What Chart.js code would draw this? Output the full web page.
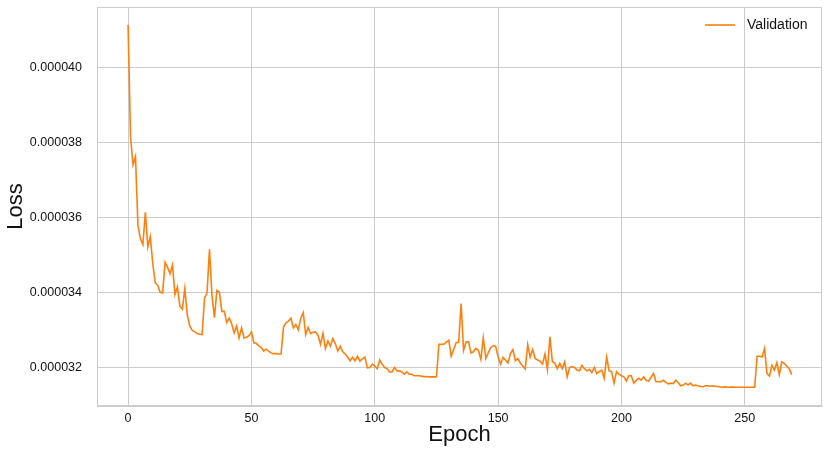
<!DOCTYPE html>
<html>
<head>
<meta charset="utf-8">
<script src="https://cdn.jsdelivr.net/npm/chart.js@4/dist/chart.umd.min.js"></script>
<style>
  body { margin: 0; background: #fff; }
  canvas { display: block; }
</style>
</head>
<body>
<canvas id="myChart" width="831" height="453"></canvas>
<script>
// validation loss per epoch, in units of 1e-6
var lossMicro = [
  41.15, 38.14, 37.41, 37.63, 35.79, 35.43, 35.28, 36.14, 35.21, 35.49,
  34.77, 34.25, 34.19, 34.00, 33.98, 34.80, 34.67, 34.50, 34.73, 33.94,
  34.14, 33.63, 33.55, 34.10, 33.40, 33.10, 32.98, 32.95, 32.90, 32.88,
  32.87, 33.85, 33.98, 35.15, 33.92, 33.32, 34.05, 34.01, 33.49, 33.49,
  33.19, 33.31, 33.16, 32.91, 33.10, 32.78, 33.05, 32.78, 32.80, 32.84,
  32.94, 32.65, 32.63, 32.57, 32.52, 32.43, 32.48, 32.43, 32.38, 32.36,
  32.36, 32.35, 32.35, 33.07, 33.18, 33.23, 33.31, 33.05, 33.14, 33.00,
  33.31, 33.46, 32.87, 33.06, 32.90, 32.93, 32.94, 32.85, 32.61, 32.90,
  32.50, 32.70, 32.56, 32.76, 32.63, 32.43, 32.56, 32.41, 32.35, 32.27,
  32.17, 32.26, 32.17, 32.29, 32.16, 32.22, 32.27, 31.98, 31.99, 32.08,
  32.03, 31.96, 32.19, 32.08, 31.99, 31.96, 31.87, 31.87, 31.99, 31.90,
  31.90, 31.87, 31.81, 31.87, 31.81, 31.81, 31.77, 31.77, 31.77, 31.76,
  31.74, 31.75, 31.74, 31.74, 31.74, 31.74, 32.61, 32.61, 32.61, 32.67,
  32.72, 32.29, 32.47, 32.66, 32.66, 33.70, 32.45, 32.67, 32.68, 32.38,
  32.41, 32.50, 32.45, 32.21, 32.78, 32.23, 32.38, 32.52, 32.57, 32.56,
  32.27, 32.08, 32.26, 32.19, 32.11, 32.36, 32.47, 32.17, 32.23, 32.11,
  32.03, 31.95, 32.60, 32.27, 32.47, 32.23, 32.19, 32.16, 32.08, 32.35,
  31.94, 32.81, 32.15, 32.10, 31.96, 32.10, 31.96, 32.14, 31.74, 31.99,
  32.01, 31.99, 31.92, 31.90, 32.05, 31.96, 31.90, 31.94, 31.85, 31.99,
  31.83, 31.88, 31.92, 31.70, 32.27, 31.90, 31.88, 31.57, 31.88, 31.81,
  31.77, 31.74, 31.63, 31.77, 31.77, 31.57, 31.65, 31.70, 31.65, 31.74,
  31.65, 31.63, 31.73, 31.83, 31.61, 31.61, 31.61, 31.65, 31.59, 31.55,
  31.57, 31.56, 31.65, 31.59, 31.50, 31.52, 31.57, 31.52, 31.57, 31.50,
  31.52, 31.50, 31.49, 31.47, 31.50, 31.50, 31.49, 31.50, 31.49, 31.48,
  31.47, 31.46, 31.47, 31.46, 31.46, 31.47, 31.46, 31.46, 31.46, 31.46,
  31.46, 31.46, 31.46, 31.46, 31.46, 32.29, 32.29, 32.27, 32.50, 31.83,
  31.76, 32.05, 31.92, 32.12, 31.80, 32.14, 32.10, 32.03, 31.96, 31.80
];
var epochs = lossMicro.map(function (v, i) { return i; });
var xTicks = [0, 50, 100, 150, 200, 250];
var yTicks = [32, 34, 36, 38, 40];

var gridColor = "#cccccc";
var fontFamily = "'Liberation Sans', Arial, sans-serif";

// light frame around the plot area, plus a matplotlib-like legend in the top right
var frame = {
  id: "frame",
  afterDraw: function (chart) {
    var a = chart.chartArea;
    var c = chart.ctx;
    c.save();
    c.strokeStyle = gridColor;
    c.lineWidth = 1;
    c.strokeRect(a.left + 0.5, a.top + 0.5, a.right - a.left - 1, a.bottom - a.top - 1);

    var ds = chart.data.datasets[0];
    var y = a.top + 18;
    c.strokeStyle = ds.borderColor;
    c.lineWidth = ds.borderWidth;
    c.beginPath();
    c.moveTo(a.right - 117, y);
    c.lineTo(a.right - 87, y);
    c.stroke();
    c.fillStyle = "#111";
    c.font = "14px " + fontFamily;
    c.textAlign = "left";
    c.textBaseline = "middle";
    c.fillText(ds.label, a.right - 75, y);
    c.restore();
  }
};

var ctx = document.getElementById("myChart").getContext("2d");
var myChart = new Chart(ctx, {
  type: "line",
  data: {
    datasets: [
      {
        label: "Validation",
        data: epochs.map(function (e, i) { return { x: e, y: lossMicro[i] }; }),
        borderColor: "#ff7f0e",
        backgroundColor: "#ff7f0e",
        borderWidth: 1.6,
        pointRadius: 0,
        tension: 0,
        fill: false
      }
    ]
  },
  plugins: [frame],
  options: {
    responsive: false,
    animation: false,
    layout: { padding: { left: 0, top: 7, right: 9, bottom: 0 } },
    plugins: {
      tooltip: { enabled: false },
      legend: { display: false }
    },
    scales: {
      x: {
        type: "linear",
        min: -12.6,
        max: 281.3,
        afterBuildTicks: function (s) { s.ticks = xTicks.map(function (v) { return { value: v }; }); },
        afterFit: function (s) { s.height = 47; s.paddingLeft = 0; s.paddingRight = 0; },
        grid: { color: gridColor, drawTicks: false },
        border: { color: gridColor },
        ticks: { padding: 5, color: "#111", font: { family: fontFamily, size: 12.5 } },
        title: {
          display: true,
          text: "Epoch",
          color: "#111",
          font: { family: fontFamily, size: 22 },
          padding: { top: 0, bottom: 5 }
        }
      },
      y: {
        min: 30.96,
        max: 41.63,
        afterBuildTicks: function (s) { s.ticks = yTicks.map(function (v) { return { value: v }; }); },
        afterFit: function (s) { s.width = 97; s.paddingTop = 0; s.paddingBottom = 0; },
        grid: { color: gridColor, drawTicks: false },
        border: { color: gridColor },
        ticks: {
          padding: 15,
          color: "#111",
          font: { family: fontFamily, size: 12.5 },
          callback: function (v) { return (v / 1e6).toFixed(6); }
        },
        title: {
          display: true,
          text: "Loss",
          color: "#111",
          font: { family: fontFamily, size: 22 },
          padding: { top: 3, bottom: 0 }
        }
      }
    }
  }
});
</script>
</body>
</html>
